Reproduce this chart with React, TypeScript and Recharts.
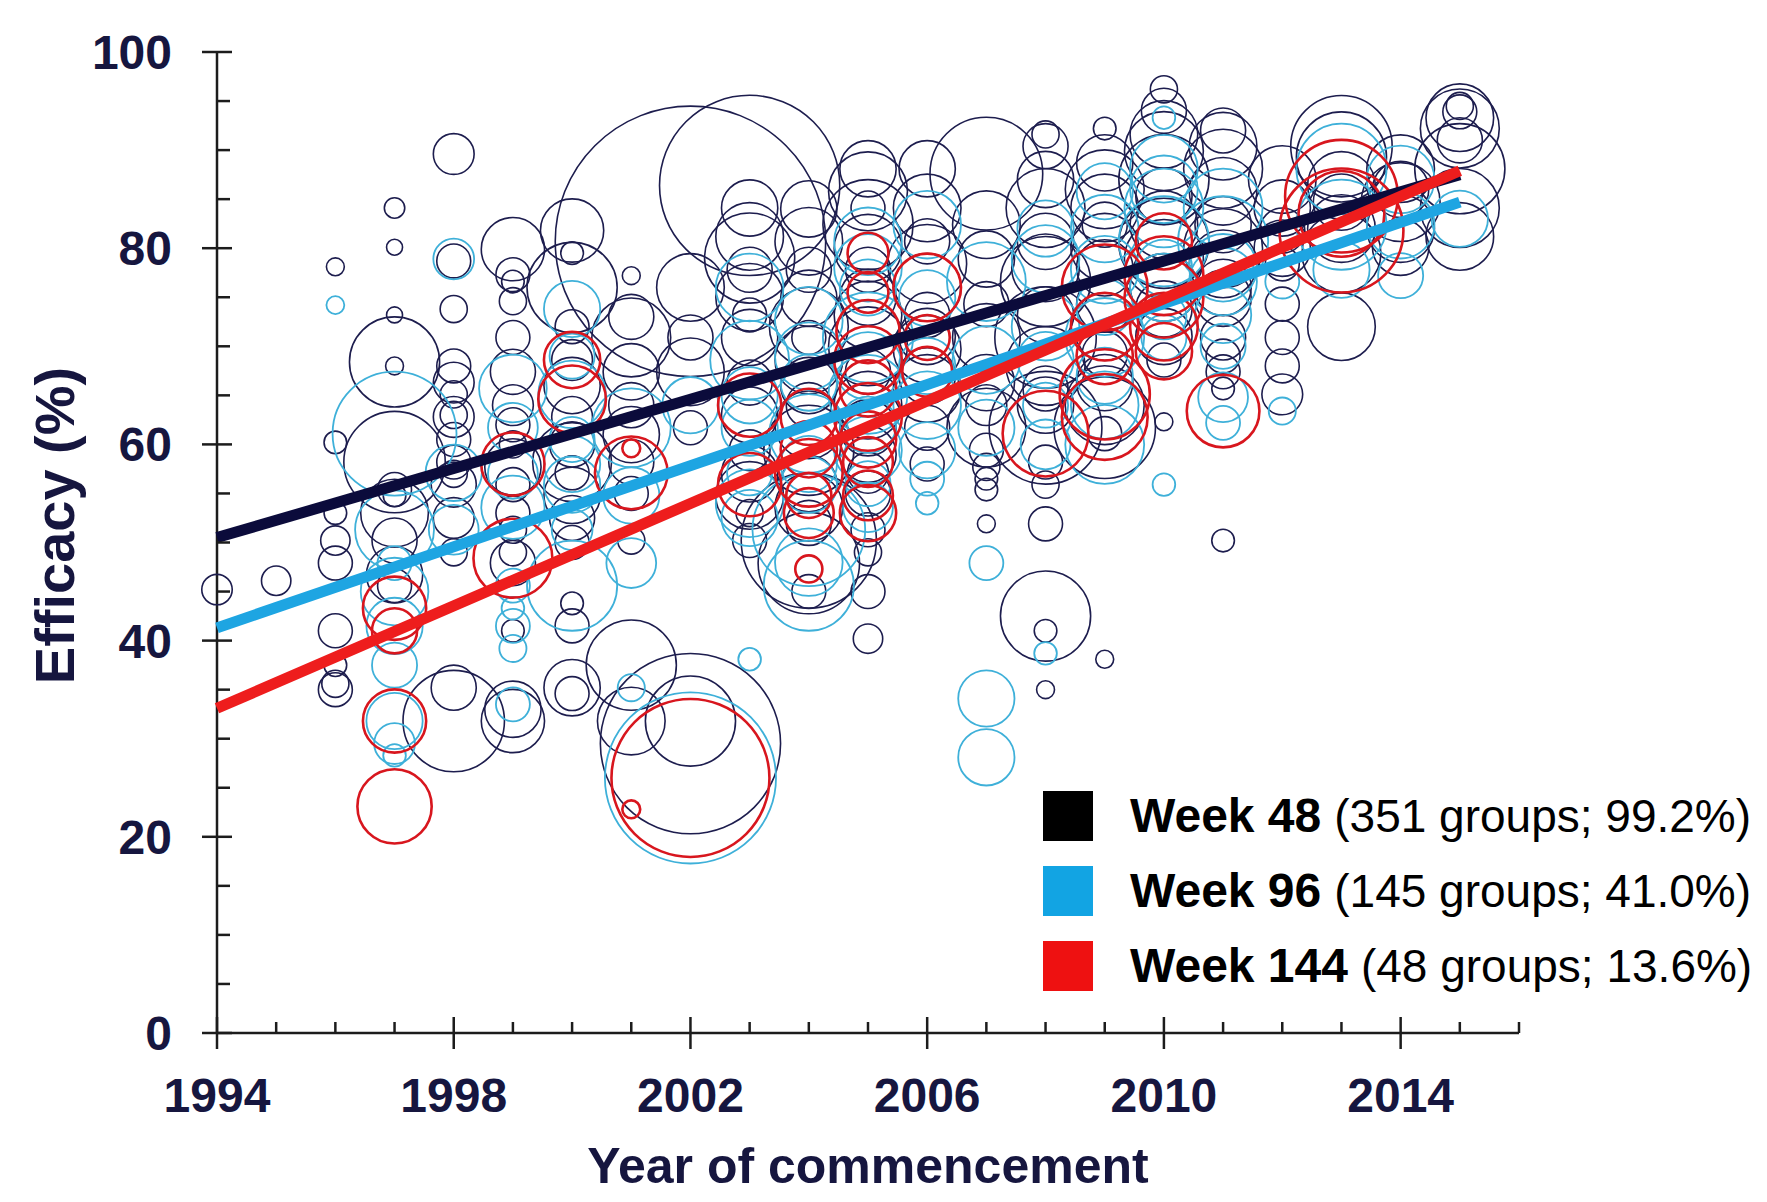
import { ScatterChart, Scatter, XAxis, YAxis, ZAxis, Legend } from "recharts";

// [year of commencement, efficacy %, group size]
type Row = [number, number, number];

const xTicks = [
  1994, 1995, 1996, 1997, 1998, 1999, 2000, 2001, 2002, 2003, 2004, 2005, 2006, 2007, 2008, 2009, 2010,
  2011, 2012, 2013, 2014, 2015, 2016,
];
const xLabels = [1994, 1998, 2002, 2006, 2010, 2014];
const yTicks = [0, 5, 10, 15, 20, 25, 30, 35, 40, 45, 50, 55, 60, 65, 70, 75, 80, 85, 90, 95, 100];
const yLabels = [0, 20, 40, 60, 80, 100];

const week48: Row[] = [
  [1994, 45.2, 58], [1995, 46.1, 54],
  [1996, 78.1, 20], [1996, 60.2, 32], [1996, 53, 32], [1996, 50.2, 54], [1996, 47.9, 72], [1996, 41, 72],
  [1996, 35.6, 46], [1996, 35, 72], [1996, 37.5, 32],
  [1997, 84.1, 26], [1997, 80.1, 16], [1997, 73.2, 16], [1997, 68.4, 508], [1997, 68, 20], [1997, 58.2, 643],
  [1997, 55.4, 72], [1997, 54.8, 32], [1997, 53, 286], [1997, 50.2, 127], [1997, 46.7, 198], [1997, 45.6, 72],
  [1998, 89.6, 104], [1998, 78.7, 72], [1998, 73.8, 46], [1998, 68, 72], [1998, 66.3, 104], [1998, 65.1, 46],
  [1998, 63, 46], [1998, 62.8, 104], [1998, 60.5, 72], [1998, 58.2, 72], [1998, 57, 46], [1998, 55.9, 127],
  [1998, 52.5, 104], [1998, 49, 46], [1998, 31.8, 643], [1998, 35.2, 127],
  [1999, 79.9, 250], [1999, 77.3, 72], [1999, 76.6, 32], [1999, 74.6, 46], [1999, 70.9, 72], [1999, 67.4, 127],
  [1999, 64, 104], [1999, 62, 72], [1999, 60, 46], [1999, 57.7, 198], [1999, 55.9, 72], [1999, 53, 72],
  [1999, 51.3, 46], [1999, 49, 46], [1999, 47.9, 127], [1999, 41, 32], [1999, 33, 198], [1999, 31.8, 250],
  [2000, 81.8, 250], [2000, 79.5, 32], [2000, 76, 508], [2000, 72, 72], [2000, 68.6, 104], [2000, 66, 198],
  [2000, 62.8, 104], [2000, 60, 127], [2000, 58.2, 389], [2000, 57.1, 72], [2000, 54.8, 198], [2000, 52.5, 127],
  [2000, 50, 72], [2000, 43.8, 32], [2000, 41.5, 72], [2000, 35.2, 198], [2000, 34.6, 72],
  [2001, 77.2, 20], [2001, 73, 127], [2001, 70.9, 389], [2001, 67.4, 198], [2001, 64, 127], [2001, 61, 198],
  [2001, 58.2, 127], [2001, 55, 72], [2001, 50.2, 46], [2001, 37.5, 508], [2001, 31.8, 286],
  [2002, 80.7, 4570], [2002, 76, 286], [2002, 70.9, 127], [2002, 67.4, 286], [2002, 61.7, 72], [2002, 29.5, 2030],
  [2002, 31.8, 508],
  [2003, 86.4, 2030], [2003, 84.1, 198], [2003, 81.2, 286], [2003, 79, 508], [2003, 77.8, 127], [2003, 75, 286],
  [2003, 73.2, 72], [2003, 70.9, 198], [2003, 66.3, 127], [2003, 63, 198], [2003, 59.4, 104], [2003, 57, 198],
  [2003, 54.8, 286], [2003, 53, 46], [2003, 50.2, 72],
  [2004, 84, 198], [2004, 80.7, 286], [2004, 77.8, 127], [2004, 74.9, 198], [2004, 72, 389], [2004, 70.9, 72],
  [2004, 68.6, 286], [2004, 66, 198], [2004, 64, 127], [2004, 62, 286], [2004, 59.4, 508], [2004, 56, 198],
  [2004, 53.6, 286], [2004, 52, 127], [2004, 50.2, 1143], [2004, 47.9, 643], [2004, 45, 72],
  [2005, 88.1, 198], [2005, 85.8, 389], [2005, 84.1, 72], [2005, 82.4, 508], [2005, 80, 286], [2005, 77.8, 127],
  [2005, 75, 198], [2005, 73.2, 286], [2005, 70, 389], [2005, 67.4, 127], [2005, 64, 286], [2005, 61.7, 198],
  [2005, 59, 198], [2005, 57.1, 104], [2005, 55, 127], [2005, 51.3, 72], [2005, 49, 46], [2005, 45, 72],
  [2005, 40.2, 54],
  [2006, 88.1, 198], [2006, 84.1, 286], [2006, 80.7, 127], [2006, 78.4, 389], [2006, 76, 286], [2006, 73.2, 127],
  [2006, 71, 198], [2006, 69.7, 286], [2006, 67, 198], [2006, 65.7, 286], [2006, 61.7, 127], [2006, 58, 72],
  [2007, 87.6, 794], [2007, 82.4, 286], [2007, 78.9, 198], [2007, 74.3, 127], [2007, 70.9, 286], [2007, 66.3, 198],
  [2007, 64, 104], [2007, 61.7, 389], [2007, 59.4, 72], [2007, 57.7, 46], [2007, 56.5, 32], [2007, 55.4, 32],
  [2007, 51.9, 20],
  [2008, 91.6, 46], [2008, 90.4, 127], [2008, 87, 198], [2008, 84.1, 389], [2008, 80.7, 198], [2008, 78, 286],
  [2008, 76.6, 508], [2008, 73.2, 198], [2008, 70.9, 643], [2008, 68, 389], [2008, 65.7, 127], [2008, 64, 198],
  [2008, 61.7, 794], [2008, 58.2, 72], [2008, 55.9, 46], [2008, 51.9, 72], [2008, 42.5, 508], [2008, 41, 32],
  [2008, 35, 20],
  [2009, 92.2, 32], [2009, 88.7, 198], [2009, 86, 389], [2009, 84.1, 286], [2009, 82.4, 127], [2009, 80.1, 286],
  [2009, 78, 198], [2009, 74.3, 198], [2009, 72, 286], [2009, 69.2, 127], [2009, 66.3, 198], [2009, 64, 389],
  [2009, 61.7, 643], [2009, 61.1, 72], [2009, 38.1, 20],
  [2010, 96.2, 46], [2010, 94, 127], [2010, 91.6, 286], [2010, 89.9, 389], [2010, 87, 508], [2010, 85.3, 198],
  [2010, 82.4, 286], [2010, 80.5, 508], [2010, 78.9, 389], [2010, 76, 286], [2010, 73.8, 198], [2010, 71, 198],
  [2010, 68.6, 72], [2010, 62.3, 20],
  [2011, 92, 127], [2011, 90.4, 286], [2011, 88.1, 389], [2011, 85.8, 286], [2011, 82.4, 198], [2011, 80, 389],
  [2011, 78.4, 286], [2011, 76, 198], [2011, 74.9, 198], [2011, 70.9, 127], [2011, 69, 72], [2011, 67.4, 72],
  [2011, 65.7, 32], [2011, 50.2, 32],
  [2012, 87, 286], [2012, 84.1, 198], [2012, 81.8, 127], [2012, 80, 198], [2012, 78.4, 72], [2012, 74.3, 72],
  [2012, 70.9, 72], [2012, 68, 72], [2012, 65.1, 104],
  [2013, 90.4, 643], [2013, 89.3, 508], [2013, 86.4, 286], [2013, 84.7, 198], [2013, 82, 286], [2013, 79.5, 389],
  [2013, 72, 286],
  [2014, 88.1, 286], [2014, 86, 198], [2014, 84.7, 389], [2014, 82, 286], [2014, 80.1, 198],
  [2015, 94.5, 46], [2015, 93.9, 72], [2015, 93.3, 286], [2015, 92.2, 389], [2015, 91, 127], [2015, 88.1, 508],
  [2015, 84.1, 389], [2015, 81.2, 286],
];

const week96: Row[] = [
  [1996, 74.2, 20],
  [1997, 61.1, 960], [1997, 51.3, 389], [1997, 47.9, 72], [1997, 45, 286], [1997, 41.5, 198], [1997, 37.5, 127],
  [1997, 31.8, 198], [1997, 29.5, 104], [1997, 28.3, 32],
  [1998, 78.9, 104], [1998, 57.1, 198], [1998, 51.3, 155],
  [1999, 65.7, 286], [1999, 61.7, 155], [1999, 57, 155], [1999, 53.6, 250], [1999, 45.6, 72], [1999, 43.3, 32],
  [1999, 41.5, 72], [1999, 39.2, 46], [1999, 33.5, 72],
  [2000, 73.8, 198], [2000, 69, 127], [2000, 65.1, 286], [2000, 60.5, 127], [2000, 58, 198], [2000, 55.9, 198],
  [2000, 51.3, 104], [2000, 45.6, 508],
  [2001, 61.7, 389], [2001, 54.8, 198], [2001, 47.9, 155], [2001, 35.2, 46],
  [2002, 64, 198], [2002, 26, 1830],
  [2003, 76, 286], [2003, 68.6, 389], [2003, 65, 198], [2003, 61.7, 198], [2003, 57.1, 127], [2003, 54, 286],
  [2003, 52.5, 198], [2003, 38.1, 32],
  [2004, 72.6, 286], [2004, 69, 286], [2004, 66.3, 198], [2004, 61.1, 389], [2004, 58, 198], [2004, 55.9, 198],
  [2004, 51.3, 794], [2004, 48, 286], [2004, 45.6, 508],
  [2005, 80.7, 286], [2005, 78, 286], [2005, 76, 198], [2005, 70.9, 508], [2005, 68, 286], [2005, 65.1, 389],
  [2005, 62, 198], [2005, 59.4, 286], [2005, 56, 127], [2005, 53.6, 155],
  [2006, 82.4, 286], [2006, 74.9, 198], [2006, 68, 198], [2006, 64, 286], [2006, 59.4, 198], [2006, 56.5, 72],
  [2006, 54, 32],
  [2007, 76.6, 389], [2007, 68.6, 286], [2007, 61.7, 198], [2007, 47.9, 72], [2007, 34.1, 198], [2007, 28.1, 198],
  [2008, 82, 198], [2008, 78.9, 286], [2008, 72, 286], [2008, 68.6, 198], [2008, 64, 127], [2008, 60, 155],
  [2008, 38.7, 32],
  [2009, 85.8, 198], [2009, 82, 286], [2009, 77.8, 286], [2009, 74, 198], [2009, 70.9, 389], [2009, 67, 198],
  [2009, 64, 286], [2009, 60, 389],
  [2010, 93.3, 32], [2010, 88.1, 286], [2010, 86, 286], [2010, 84.1, 389], [2010, 80.7, 508], [2010, 78, 198],
  [2010, 76, 286], [2010, 73, 127], [2010, 70.9, 127], [2010, 55.9, 32],
  [2011, 84.1, 389], [2011, 80.7, 508], [2011, 78, 286], [2011, 76.6, 286], [2011, 73.2, 198], [2011, 70, 127],
  [2011, 64.8, 155], [2011, 62.2, 72],
  [2012, 76.6, 72], [2012, 63.4, 46],
  [2013, 88.1, 508], [2013, 82.4, 508], [2013, 77.8, 198],
  [2014, 87, 286], [2014, 82.4, 286], [2014, 77.2, 127],
  [2015, 83, 198],
];

const week144: Row[] = [
  [1997, 43.3, 250], [1997, 41, 127], [1997, 31.8, 250], [1997, 23.1, 345],
  [1999, 58, 250], [1999, 48.4, 389],
  [2000, 68.6, 198], [2000, 64.6, 286],
  [2001, 59.6, 20], [2001, 57.1, 330], [2001, 22.8, 20],
  [2002, 26, 1560],
  [2003, 64, 250], [2003, 55.9, 250],
  [2004, 62.8, 198], [2004, 59.5, 198], [2004, 57.1, 286], [2004, 54.8, 127], [2004, 53, 155], [2004, 47.3, 46],
  [2005, 79.5, 104], [2005, 75.5, 104], [2005, 71.5, 250], [2005, 68.6, 286], [2005, 65.7, 198], [2005, 62.8, 286],
  [2005, 60.5, 198], [2005, 58.2, 155], [2005, 54.8, 155], [2005, 53, 198],
  [2006, 76, 286], [2006, 70.9, 127], [2006, 67.4, 155],
  [2008, 61.1, 460],
  [2009, 76, 460], [2009, 72, 286], [2009, 69, 198], [2009, 65.1, 508], [2009, 62.8, 460],
  [2010, 80.7, 198], [2010, 77.2, 389], [2010, 74.9, 389], [2010, 72, 286], [2010, 69.5, 198],
  [2011, 63.4, 330],
  [2013, 85.3, 794], [2013, 83.5, 460], [2013, 81.8, 960],
];

// regression lines, [year, efficacy %]
const trend48 = [[1994, 50.5], [2015, 87.5]];
const trend96 = [[1994, 41.3], [2015, 84.7]];
const trend144 = [[1994, 33.1], [2015, 87.9]];

const legendNames = ["Week 48", "Week 96", "Week 144"];
const legendDetails = ["(351 groups; 99.2%)", "(145 groups; 41.0%)", "(48 groups; 13.6%)"];
const legendColors = ["#000000", "#12a4e3", "#ee1111"];

const NAVY = "#16163f";
const AXIS = "#1c1c1c";
const FONT = "'Liberation Sans', Arial, sans-serif";

const toPoints = (rows: Row[]) => rows.map(([year, eff, n]) => ({ year, eff, n }));
const toLine = (rows: number[][]) => rows.map(([year, eff]) => ({ year, eff }));

const ring = (color: string, width: number) => (p: any) => {
  const r = p.width ? p.width / 2 : Math.sqrt((p.size || 0) / Math.PI);
  return <circle cx={p.cx} cy={p.cy} r={r} fill="none" stroke={color} strokeWidth={width} />;
};
const noDot = () => <g />;

const XTick = (props: any) => {
  const { x, y, payload } = props;
  const major = xLabels.includes(payload.value);
  return (
    <g>
      <line x1={x} x2={x} y1={major ? y - 16 : y - 11} y2={major ? y + 16 : y} stroke={AXIS} strokeWidth={2.5} />
      {major && (
        <text x={x} y={y + 79} textAnchor="middle" fontSize={48} fontWeight="bold" fill={NAVY} fontFamily={FONT}>
          {payload.value}
        </text>
      )}
    </g>
  );
};

const YTick = (props: any) => {
  const { x, y, payload } = props;
  const major = yLabels.includes(payload.value);
  return (
    <g>
      <line x1={major ? x - 15 : x} x2={major ? x + 15 : x + 13} y1={y} y2={y} stroke={AXIS} strokeWidth={2.5} />
      {major && (
        <text x={x - 45} y={y + 17} textAnchor="end" fontSize={48} fontWeight="bold" fill={NAVY} fontFamily={FONT}>
          {payload.value}
        </text>
      )}
    </g>
  );
};

const XTitle = ({ viewBox }: any) => (
  <text
    x={viewBox.x + viewBox.width / 2}
    y={viewBox.y + 150}
    textAnchor="middle"
    fontSize={50}
    fontWeight="bold"
    fill={NAVY}
    fontFamily={FONT}
  >
    Year of commencement
  </text>
);

const YTitle = ({ viewBox }: any) => (
  <text
    transform={`translate(${viewBox.x - 23},${viewBox.y + viewBox.height / 2 - 17}) rotate(-90)`}
    textAnchor="middle"
    fontSize={56}
    fontWeight="bold"
    fill={NAVY}
    fontFamily={FONT}
  >
    Efficacy (%)
  </text>
);

const LegendBox = () => (
  <div style={{ fontFamily: FONT, color: "#000" }}>
    {legendNames.map((name, i) => (
      <div key={name} style={{ display: "flex", alignItems: "center", height: 75, whiteSpace: "nowrap" }}>
        <span style={{ width: 50, height: 50, background: legendColors[i], marginRight: 37, flex: "none" }} />
        <span style={{ fontSize: 48, fontWeight: "bold" }}>{name}</span>
        <span style={{ fontSize: 46, marginLeft: 13 }}>{legendDetails[i]}</span>
      </div>
    ))}
  </div>
);

export default function App() {
  return (
    <div style={{ position: "absolute", left: 0, top: 0, width: 1767, height: 1202, background: "#fff" }}>
      <ScatterChart width={1767} height={1202} margin={{ top: 52, right: 248, bottom: 49, left: 97 }}>
        <XAxis
          type="number"
          dataKey="year"
          domain={[1994, 2016]}
          ticks={xTicks}
          interval={0}
          tickSize={0}
          tickMargin={0}
          tickLine={false}
          height={120}
          axisLine={{ stroke: AXIS, strokeWidth: 2.5 }}
          tick={<XTick />}
          label={{ content: XTitle }}
        />
        <YAxis
          type="number"
          dataKey="eff"
          domain={[0, 100]}
          ticks={yTicks}
          interval={0}
          tickSize={0}
          tickMargin={0}
          tickLine={false}
          width={120}
          axisLine={{ stroke: AXIS, strokeWidth: 2.5 }}
          tick={<YTick />}
          label={{ content: YTitle }}
        />
        <ZAxis type="number" dataKey="n" domain={[0, 5000]} range={[0, 4 * Math.PI * 5000]} />
        <Legend
          layout="vertical"
          align="center"
          verticalAlign="middle"
          content={<LegendBox />}
          wrapperStyle={{ left: 1043, top: 778, width: 724 }}
        />
        <Scatter name="Week 48" data={toPoints(week48)} fill="#1d1d4e" shape={ring("#1d1d4e", 1.6)} isAnimationActive={false} />
        <Scatter name="Week 96" data={toPoints(week96)} fill="#3eb0d9" shape={ring("#3eb0d9", 1.8)} isAnimationActive={false} />
        <Scatter name="Week 144" data={toPoints(week144)} fill="#d8161e" shape={ring("#d8161e", 2.6)} isAnimationActive={false} />
        <Scatter
          data={toLine(trend48)}
          stroke="#0b0b3b"
          line={{ stroke: "#0b0b3b", strokeWidth: 11 }}
          shape={noDot}
          legendType="none"
          isAnimationActive={false}
        />
        <Scatter
          data={toLine(trend96)}
          stroke="#1ea5e2"
          line={{ stroke: "#1ea5e2", strokeWidth: 11 }}
          shape={noDot}
          legendType="none"
          isAnimationActive={false}
        />
        <Scatter
          data={toLine(trend144)}
          stroke="#ee1d1d"
          line={{ stroke: "#ee1d1d", strokeWidth: 11 }}
          shape={noDot}
          legendType="none"
          isAnimationActive={false}
        />
      </ScatterChart>
    </div>
  );
}
